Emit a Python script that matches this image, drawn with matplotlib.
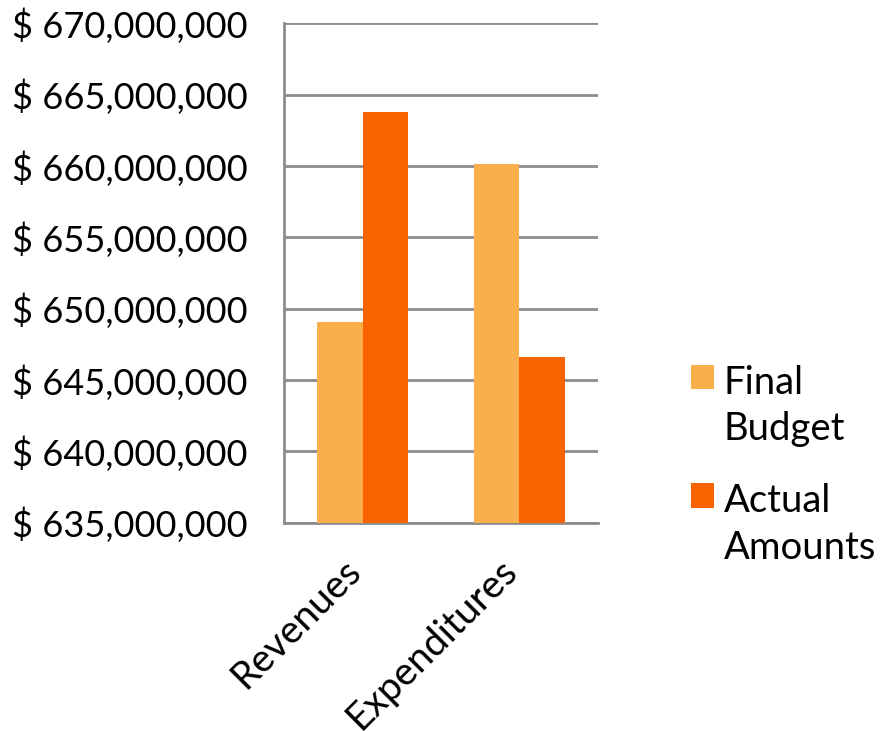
import matplotlib
matplotlib.use("Agg")
import matplotlib.pyplot as plt
import numpy as np
from matplotlib.ticker import FuncFormatter, MultipleLocator

categories = ["Revenues", "Expenditures"]
final_budget = [649_090_000, 660_150_000]
actual_amounts = [663_800_000, 646_630_000]
series_names = ["Final\nBudget", "Actual\nAmounts"]
colors = ["#F9AF4B", "#F96302"]

plt.rcParams["font.family"] = ["Lato", "DejaVu Sans"]

fig = plt.figure(figsize=(8.82, 7.31), dpi=100)
ax = fig.add_axes([0.322, 0.285, 0.356, 0.683])

x = np.arange(len(categories))
w = 0.287
b1 = ax.bar(x - w / 2, final_budget, w, color=colors[0], label=series_names[0], zorder=3)
b2 = ax.bar(x + w / 2, actual_amounts, w, color=colors[1], label=series_names[1], zorder=3)

ax.set_xlim(-0.5, 1.5)
ax.set_ylim(635_000_000, 670_000_000)
ax.yaxis.set_major_locator(MultipleLocator(5_000_000))
ax.yaxis.set_major_formatter(FuncFormatter(lambda v, _: f"$ {v:,.0f}"))
ax.grid(axis="y", color="#8c8c8c", linewidth=2, zorder=0)

for side in ["top", "right"]:
    ax.spines[side].set_visible(False)
for side in ["left", "bottom"]:
    ax.spines[side].set_color("#8c8c8c")
    ax.spines[side].set_linewidth(2)

ax.tick_params(axis="y", length=0, pad=26, labelsize=26)
ax.tick_params(axis="x", length=0, pad=36, labelsize=28)
ax.set_xticks(x)
ax.set_xticklabels(categories, rotation=45, ha="right", va="baseline", rotation_mode="anchor")

leg = fig.legend(handles=[b1, b2], loc="upper left", bbox_to_anchor=(691 / 882, 1 - 365 / 731),
                 frameon=False, fontsize=27.5, handlelength=0.6, handleheight=0.6,
                 handletextpad=0.25, labelspacing=0.95, borderpad=0, borderaxespad=0)
for t in leg.get_texts():
    t.set_linespacing(1.35)
# keep each square level with the first line of its label
for row in leg._legend_handle_box.get_children()[0].get_children():
    row.align = "top"

fig.savefig("out.png", dpi=100)
